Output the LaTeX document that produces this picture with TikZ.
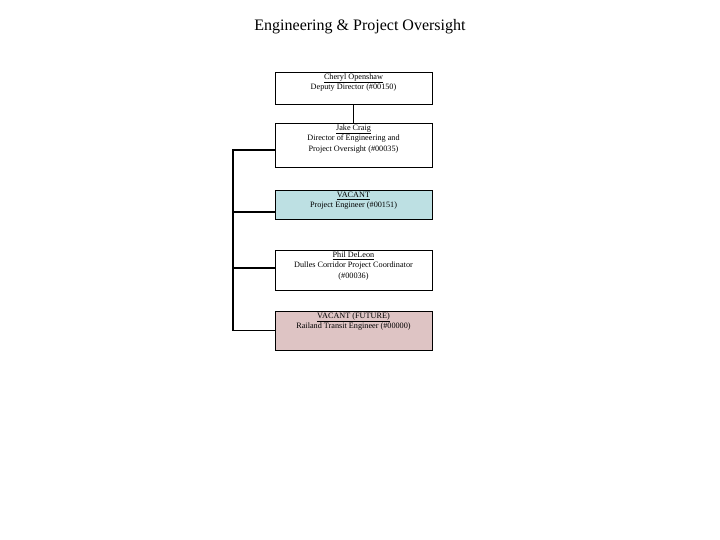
\documentclass[tikz,border=0pt]{standalone}
\usepackage{fontspec}
\setmainfont{Liberation Serif}
\usetikzlibrary{positioning}
\definecolor{vacblue}{RGB}{189,224,227}
\definecolor{vacpink}{RGB}{222,196,196}
\tikzset{
  box/.style={draw, line width=0.8pt, minimum width=157pt, inner sep=0pt},
  boxtext/.style={below, align=center, inner sep=2pt, font=\fontsize{8.2}{10.5}\selectfont},
  link/.style={line width=1.6pt}
}
\begin{document}
\begin{tikzpicture}[x=1pt, y=-1pt]
\useasboundingbox (0,0) rectangle (720,540);
\node[font=\fontsize{16}{18}\selectfont] (title) at (360,27) {Engineering \& Project Oversight};

\node[box, minimum height=32pt] (dep) at (353.5,88) {};
\node[boxtext] (deptxt) at (dep.north) {\underline{Cheryl Openshaw}\\Deputy Director (\#00150)};

\node[box, minimum height=44pt] (dir) at (353.5,145) {};
\node[boxtext] (dirtxt) at (dir.north) {\underline{Jake Craig}\\Director of Engineering and\\Project Oversight (\#00035)};

\node[box, fill=vacblue, minimum height=29pt] (pe) at (353.5,204.5) {};
\node[boxtext] (petxt) at (pe.north) {\underline{VACANT}\\Project Engineer (\#00151)};

\node[box, minimum height=40pt] (dcp) at (353.5,270) {};
\node[boxtext] (dcptxt) at (dcp.north) {\underline{Phil DeLeon}\\Dulles Corridor Project Coordinator\\(\#00036)};

\node[box, fill=vacpink, minimum height=39pt] (rte) at (353.5,330.5) {};
\node[boxtext] (rtetxt) at (rte.north) {\underline{VACANT (FUTURE)}\\Railand Transit Engineer (\#00000)};

\coordinate (bus) at (233,150);
\draw[link] (dep.south) -- (dir.north);
\draw[link] (dir.west |- bus) -- (bus) -- (bus |- rte.west) -- (rte.west);
\draw[link] (bus |- 0,212) -- (pe.west |- 0,212);
\draw[link] (bus |- 0,268) -- (dcp.west |- 0,268);
\end{tikzpicture}
\end{document}
